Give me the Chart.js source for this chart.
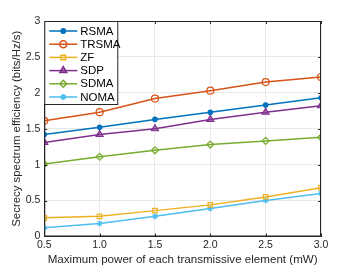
<!DOCTYPE html>
<html>
<head>
<meta charset="utf-8">
<script src="https://cdn.jsdelivr.net/npm/chart.js@4.4.0/dist/chart.umd.min.js"></script>
<style>
  html, body { margin: 0; padding: 0; background: #fff; }
  #wrap { width: 354px; height: 266px; }
</style>
</head>
<body>
<div id="wrap"><canvas id="c" width="354" height="266"></canvas></div>
<script>
// datos
const potencias = [0.5, 1.0, 1.5, 2.0, 2.5, 3.0];
const rsma  = [1.42, 1.52, 1.63, 1.73, 1.83, 1.93];
const trsma = [1.61, 1.73, 1.92, 2.03, 2.15, 2.22];
const zf    = [0.26, 0.28, 0.36, 0.44, 0.55, 0.68];
const sdp   = [1.31, 1.42, 1.50, 1.63, 1.73, 1.82];
const sdma  = [1.01, 1.11, 1.20, 1.28, 1.33, 1.38];
const noma  = [0.12, 0.18, 0.28, 0.39, 0.50, 0.60];
const yTicks = [0, 0.5, 1, 1.5, 2, 2.5, 3];

const FONT = "'Liberation Sans', Arial, sans-serif";

function serie(label, vals, color, style, fill, radius) {
    return {
        label: label,
        data: potencias.map((x, i) => ({ x: x, y: vals[i] })),
        borderColor: color,
        backgroundColor: fill,
        borderWidth: 1.5,
        pointStyle: style,
        pointRadius: radius,
        pointBorderWidth: 1.2,
        pointBorderColor: color,
        pointBackgroundColor: fill,
        tension: 0
    };
}

const datasets = [
    serie('RSMA', rsma, '#0072BD', 'circle', '#0072BD', 2.2),
    serie('TRSMA', trsma, '#D95319', 'circle', 'rgba(255,255,255,0)', 3.5),
    serie('ZF', zf, '#EDB120', 'rect', 'rgba(255,255,255,0)', 3.2),
    serie('SDP', sdp, '#7E2F8E', 'triangle', 'rgba(126,47,142,0.55)', 4),
    serie('SDMA', sdma, '#77AC30', 'rectRot', 'rgba(255,255,255,0)', 3.5),
    serie('NOMA', noma, '#4DBEEE', 'star', 'rgba(255,255,255,0)', 3)
];

// marco completo, marcas interiores y leyenda dentro del area
const cajaPlugin = {
    id: 'caja',
    afterDatasetsDraw(chart) {
        const ctx = chart.ctx;
        const a = chart.chartArea;
        ctx.save();
        ctx.strokeStyle = '#262626';
        ctx.lineWidth = 1;
        ctx.strokeRect(a.left + 0.5, a.top + 0.5, a.right - a.left - 1, a.bottom - a.top - 1);

        // marcas hacia dentro como en MATLAB
        ctx.beginPath();
        chart.scales.x.ticks.forEach(t => {
            const px = Math.round(chart.scales.x.getPixelForValue(t.value)) + 0.5;
            ctx.moveTo(px, a.bottom); ctx.lineTo(px, a.bottom - 3);
            ctx.moveTo(px, a.top); ctx.lineTo(px, a.top + 3);
        });
        chart.scales.y.ticks.forEach(t => {
            const py = Math.round(chart.scales.y.getPixelForValue(t.value)) + 0.5;
            ctx.moveTo(a.left, py); ctx.lineTo(a.left + 3, py);
            ctx.moveTo(a.right, py); ctx.lineTo(a.right - 3, py);
        });
        ctx.stroke();

        // leyenda
        const lx = a.left, ly = a.top;
        const w = 73, rowH = 13.2;
        const h = 83;
        ctx.fillStyle = '#fff';
        ctx.fillRect(lx, ly, w, h);
        ctx.strokeStyle = '#262626';
        ctx.strokeRect(lx + 0.5, ly + 0.5, w, h);
        ctx.font = '11.5px ' + FONT;
        ctx.textBaseline = 'middle';
        chart.data.datasets.forEach((ds, i) => {
            const yy = ly + 10 + i * rowH;
            ctx.strokeStyle = ds.borderColor;
            ctx.lineWidth = 1.5;
            ctx.beginPath();
            ctx.moveTo(lx + 5, yy);
            ctx.lineTo(lx + 33, yy);
            ctx.stroke();
            ctx.fillStyle = ds.pointBackgroundColor;
            ctx.strokeStyle = ds.borderColor;
            Chart.helpers.drawPoint(ctx, {
                pointStyle: ds.pointStyle,
                radius: ds.pointRadius,
                borderWidth: ds.pointBorderWidth,
                rotation: 0
            }, lx + 19, yy);
            ctx.fillStyle = '#000';
            ctx.fillText(ds.label, lx + 36, yy + 0.5);
        });
        ctx.restore();
    }
};

new Chart(document.getElementById('c'), {
    type: 'line',
    data: { datasets: datasets },
    plugins: [cajaPlugin],
    options: {
        responsive: false,
        animation: false,
        layout: { padding: { left: 10, right: 33, top: 21, bottom: -1 } },
        plugins: { legend: { display: false }, tooltip: { enabled: false } },
        scales: {
            x: {
                type: 'linear',
                min: 0.5,
                max: 3.0,
                afterBuildTicks: s => { s.ticks = potencias.map(v => ({ value: v })); },
                ticks: { callback: v => v.toFixed(1), color: '#262626', font: { family: FONT, size: 10.5 }, padding: 2, maxRotation: 0 },
                grid: { color: '#e8e8e8', drawTicks: false },
                border: { color: '#262626' },
                title: { display: true, text: 'Maximum power of each transmissive element (mW)', color: '#262626', font: { family: FONT, size: 11.6 }, padding: { top: 0, bottom: 0 } }
            },
            y: {
                min: 0,
                max: 3,
                afterBuildTicks: s => { s.ticks = yTicks.map(v => ({ value: v })); },
                ticks: { callback: v => String(v), color: '#262626', font: { family: FONT, size: 10.5 }, padding: 4 },
                grid: { color: '#e8e8e8', drawTicks: false },
                border: { color: '#262626' },
                title: { display: true, text: 'Secrecy spectrum efficiency (bits/Hz/s)', color: '#262626', font: { family: FONT, size: 11.4 }, padding: { top: 0, bottom: -2 } }
            }
        }
    }
});
</script>
</body>
</html>
